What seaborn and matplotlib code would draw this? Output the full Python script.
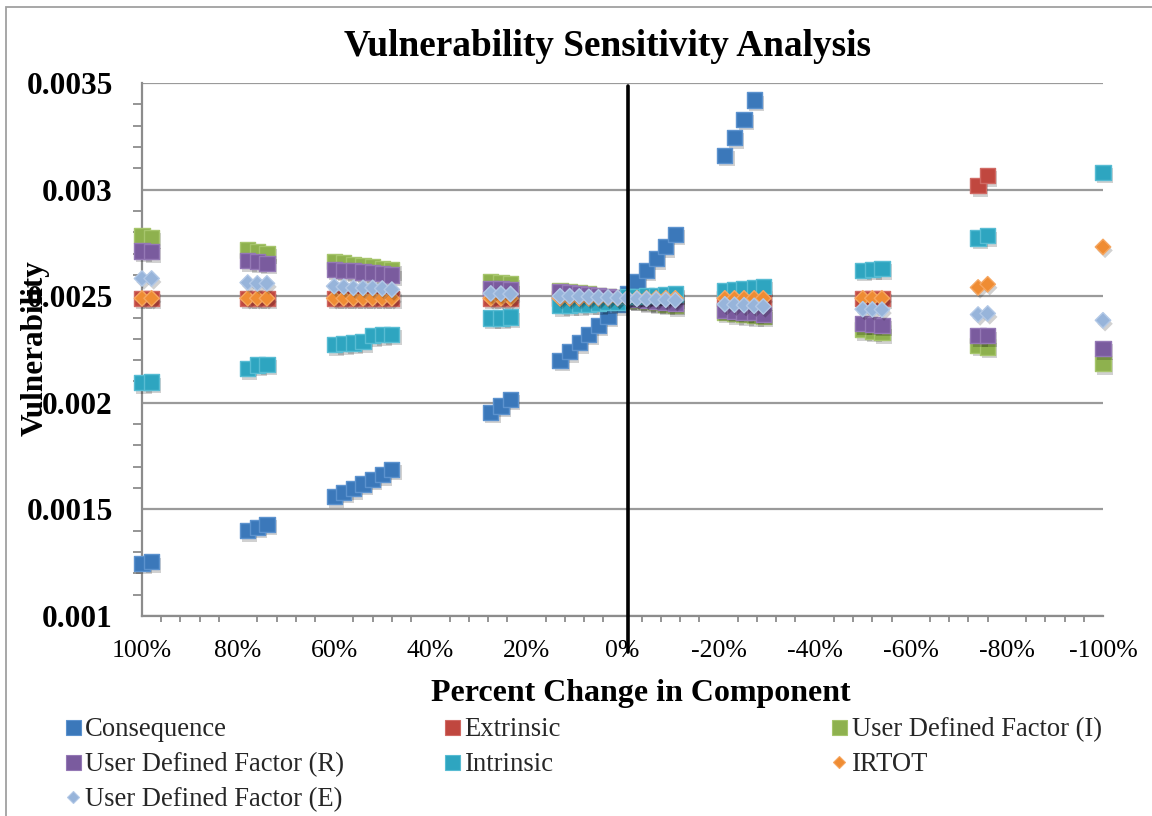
import matplotlib
matplotlib.use("Agg")
import matplotlib.pyplot as plt
import seaborn as sns
import pandas as pd
from matplotlib.lines import Line2D
from matplotlib.patches import Rectangle
from matplotlib import patheffects as pe
from matplotlib.ticker import MultipleLocator, FixedLocator, FixedFormatter

# ---------------- data ----------------
X_ALL = [100, 98, 78, 76, 74, 60, 58, 56, 54, 52, 50, 48, 27.4, 25.3, 23.3,
         13, 11, 9, 7, 5, 3, 1, -1, -3, -5, -7, -9, -11,
         -21.3, -23.3, -25.3, -27.4, -29.3, -50, -52, -54, -74, -76, -100]

X_CONSEQUENCE = [100, 98, 78, 76, 74, 60, 58, 56, 54, 52, 50, 48, 27.4, 25.3, 23.3,
                 13, 11, 9, 7, 5, 3, 1, -1, -3, -5, -7, -9, -11,
                 -21.3, -23.3, -25.3, -27.4]
Y_CONSEQUENCE = [0.001247, 0.001254, 0.0014, 0.001416, 0.001431,
                 0.001559, 0.00158, 0.001598, 0.001619, 0.001642, 0.001664, 0.001688,
                 0.001955, 0.001985, 0.002017,
                 0.0022, 0.002239, 0.002281, 0.002322, 0.002364, 0.002407, 0.00246,
                 0.00251, 0.002568, 0.002622, 0.002677, 0.002732, 0.002791,
                 0.003161, 0.003244, 0.00333, 0.00342]

X_EXTRINSIC = [100, 98, 78, 76, 74, 60, 58, 56, 54, 52, 50, 48, 27.4, 25.3, 23.3,
               13, 11, 9, 7, 5, 3, 1, -1, -3, -5, -7, -9, -11,
               -21.3, -23.3, -25.3, -27.4, -29.3, -50, -52, -54, -74, -76]
Y_EXTRINSIC = [0.00249, 0.00249, 0.00249, 0.00249, 0.00249,
               0.00249, 0.00249, 0.00249, 0.00249, 0.00249, 0.00249, 0.00249,
               0.00249, 0.00249, 0.00249,
               0.00249, 0.00249, 0.00249, 0.00249, 0.00249, 0.00249, 0.00249,
               0.00249, 0.00249, 0.00249, 0.00249, 0.00249, 0.00249,
               0.00249, 0.00249, 0.00249, 0.00249, 0.00249,
               0.00249, 0.00249, 0.00249, 0.003019, 0.003066]

Y_UDF_I = [0.002783, 0.002775, 0.002717, 0.002708, 0.002702,
           0.002661, 0.002656, 0.00265, 0.002644, 0.002637, 0.002631, 0.002623,
           0.002568, 0.002565, 0.002557,
           0.002527, 0.002522, 0.002516, 0.00251, 0.002505, 0.002499, 0.002494,
           0.002487, 0.002481, 0.002475, 0.002469, 0.002463, 0.002456,
           0.002425, 0.002418, 0.002414, 0.002409, 0.002406,
           0.002344, 0.002336, 0.002328, 0.00227, 0.002262, 0.002184]

Y_UDF_R = [0.002712, 0.002708, 0.002666, 0.002661, 0.002655,
           0.002627, 0.002622, 0.002619, 0.002614, 0.002611, 0.002606, 0.002599,
           0.002537, 0.002535, 0.00253,
           0.00252, 0.002516, 0.002511, 0.002507, 0.002502, 0.002498, 0.002493,
           0.002488, 0.002483, 0.002479, 0.002474, 0.00247, 0.002465,
           0.002434, 0.00243, 0.002426, 0.002422, 0.002416,
           0.002372, 0.002369, 0.002364, 0.002314, 0.002314, 0.002255]

Y_INTRINSIC = [0.002095, 0.002098, 0.002161, 0.002177, 0.002181,
               0.002273, 0.002278, 0.00228, 0.002287, 0.002315, 0.00232, 0.002322,
               0.002398, 0.002398, 0.002402,
               0.002456, 0.002458, 0.00246, 0.002463, 0.002466, 0.002469, 0.002473,
               0.002497, 0.0025, 0.002502, 0.002504, 0.002507, 0.00251,
               0.002528, 0.002531, 0.002536, 0.002542, 0.002547,
               0.002622, 0.002627, 0.00263, 0.002773, 0.002784, 0.003081]

Y_IRTOT = [0.00249, 0.00249, 0.00249, 0.00249, 0.00249,
           0.00249, 0.00249, 0.00249, 0.00249, 0.00249, 0.00249, 0.00249,
           0.00249, 0.00249, 0.00249,
           0.00249, 0.00249, 0.00249, 0.00249, 0.00249, 0.00249, 0.00249,
           0.00249, 0.00249, 0.00249, 0.00249, 0.00249, 0.00249,
           0.00249, 0.00249, 0.00249, 0.00249, 0.00249,
           0.00249, 0.00249, 0.00249, 0.002541, 0.002556, 0.002731]

Y_UDF_E = [0.002583, 0.002583, 0.002564, 0.00256, 0.00256,
           0.002547, 0.002544, 0.002539, 0.002539, 0.002539, 0.002536, 0.002531,
           0.002513, 0.002512, 0.00251,
           0.0025, 0.0025, 0.002499, 0.002497, 0.002495, 0.002494, 0.002492,
           0.00249, 0.002488, 0.002487, 0.002485, 0.002483, 0.002481,
           0.002462, 0.00246, 0.002458, 0.002455, 0.002452,
           0.002439, 0.002438, 0.002437, 0.002414, 0.002419, 0.002387]

SERIES_NAMES = ["Consequence", "Extrinsic", "User Defined Factor (I)",
                "User Defined Factor (R)", "Intrinsic", "IRTOT",
                "User Defined Factor (E)"]
SERIES_X = [X_CONSEQUENCE, X_EXTRINSIC, X_ALL, X_ALL, X_ALL, X_ALL, X_ALL]
SERIES_Y = [Y_CONSEQUENCE, Y_EXTRINSIC, Y_UDF_I, Y_UDF_R, Y_INTRINSIC, Y_IRTOT, Y_UDF_E]

X_TICKS = [100, 80, 60, 40, 20, 0, -20, -40, -60, -80, -100]
X_TICK_LABELS = ["100%", "80%", "60%", "40%", "20%", "0%", "-20%", "-40%",
                 "-60%", "-80%", "-100%"]
Y_TICKS = [0.001, 0.0015, 0.002, 0.0025, 0.003, 0.0035]
Y_TICK_LABELS = ["0.001", "0.0015", "0.002", "0.0025", "0.003", "0.0035"]

TITLE = "Vulnerability Sensitivity Analysis"
X_LABEL = "Percent Change in Component"
Y_LABEL = "Vulnerability"

# ---------------- style ----------------
FACE = {"Consequence": "#3B78BA", "Extrinsic": "#C0473F",
        "User Defined Factor (I)": "#8EB14E", "User Defined Factor (R)": "#7A5B9E",
        "Intrinsic": "#2EA5C0", "IRTOT": "#EF8C33",
        "User Defined Factor (E)": "#97B4DA"}
EDGE = {"Consequence": "#5C92CE", "Extrinsic": "#D06A64",
        "User Defined Factor (I)": "#A6C56C", "User Defined Factor (R)": "#9478B5",
        "Intrinsic": "#58BCD3", "IRTOT": "#F6A660",
        "User Defined Factor (E)": "#B2C8E6"}
MARK = {"Consequence": "s", "Extrinsic": "s", "User Defined Factor (I)": "s",
        "User Defined Factor (R)": "s", "Intrinsic": "s", "IRTOT": "D",
        "User Defined Factor (E)": "D"}

sns.set_theme(style="white")
plt.rcParams['font.family'] = ['Liberation Serif', 'DejaVu Serif']

W, H = 1152, 816
fig = plt.figure(figsize=(W / 100, H / 100), dpi=100)
fig.patch.set_facecolor("white")
ax = fig.add_axes([142 / W, 1 - 616 / H, (1103 - 142) / W, (616 - 83) / H])
ax.set_facecolor("white")

for i, (name, xs, ys) in enumerate(zip(SERIES_NAMES, SERIES_X, SERIES_Y)):
    df = pd.DataFrame({"x": xs, "y": ys})
    size = 120 if MARK[name] == "s" else 62
    sns.scatterplot(data=df, x="x", y="y", ax=ax, marker=MARK[name], s=size,
                    color=FACE[name], edgecolor=EDGE[name], linewidth=1.0,
                    zorder=3 + i, legend=False)
    coll = ax.collections[-1]
    coll.set_clip_on(False)
    coll.set_path_effects([pe.SimplePatchShadow(offset=(1.5, -2.5), shadow_rgbFace="black", alpha=0.18),
                           pe.Normal()])

ax.set_xlim(100, -100)
ax.set_ylim(0.001, 0.0035)
ax.set_xlabel("")
ax.set_ylabel("")

ax.xaxis.set_major_locator(FixedLocator(X_TICKS))
ax.xaxis.set_major_formatter(FixedFormatter(X_TICK_LABELS))
ax.xaxis.set_minor_locator(MultipleLocator(4))
ax.yaxis.set_major_locator(FixedLocator(Y_TICKS))
ax.yaxis.set_major_formatter(FixedFormatter(Y_TICK_LABELS))
ax.yaxis.set_minor_locator(MultipleLocator(0.0001))

for s in ["top", "right"]:
    ax.spines[s].set_visible(False)
for s in ["left", "bottom"]:
    ax.spines[s].set_color("#8c8c8c")
    ax.spines[s].set_linewidth(1.6)
    ax.spines[s].set_zorder(2.5)

ax.grid(False)
ax.yaxis.grid(True, which="major", color="#9a9a9a", linewidth=1.6, zorder=1)
ax.set_axisbelow(True)

ax.tick_params(axis="y", which="major", direction="out", length=9, width=1.4,
               color="#8c8c8c", pad=12, labelsize=22.5)
ax.tick_params(axis="y", which="minor", direction="out", length=6.5, width=1.3,
               color="#8c8c8c", left=True)
ax.tick_params(axis="x", which="major", direction="out", length=6, width=1.4,
               color="#8c8c8c", pad=11, labelsize=18.5)
ax.tick_params(axis="x", which="minor", direction="out", length=4.5, width=1.3,
               color="#8c8c8c", bottom=True)
for lab in ax.get_yticklabels():
    lab.set_fontweight("bold")
    lab.set_color("black")
for lab in ax.get_xticklabels():
    lab.set_color("black")

# vertical reference line (drawn shape in the original)
ZERO_LINE_X = -1.2
ax.axvline(ZERO_LINE_X, ymin=-0.068, ymax=0.995, color="black", linewidth=2.6,
           clip_on=False, zorder=20)

# titles
fig.text(608 / W, 1 - 46 / H, TITLE, ha="center", va="center",
         fontsize=26.8, fontweight="bold", color="black")
fig.text(641 / W, 1 - 694 / H, X_LABEL, ha="center", va="center",
         fontsize=23, fontweight="bold", color="black")
fig.text(35 / W, 1 - 348 / H, Y_LABEL, ha="center", va="center", rotation=90,
         fontsize=22.5, fontweight="bold", color="black")

# legend in three columns
def handle(name):
    ms = 10.8 if MARK[name] == "s" else 6.3
    return Line2D([], [], linestyle="none", marker=MARK[name], markersize=ms,
                  markerfacecolor=FACE[name], markeredgecolor=EDGE[name],
                  markeredgewidth=0.8)

LEG_COLS = [(["Consequence", "User Defined Factor (R)", "User Defined Factor (E)"], 64.5),
            (["Extrinsic", "Intrinsic"], 444),
            (["User Defined Factor (I)", "IRTOT"], 831)]
for names, xl in LEG_COLS:
    fig.legend([handle(n) for n in names], names, loc="upper left",
               bbox_to_anchor=(xl / W, 1 - 717 / H), frameon=False,
               fontsize=19.2, handlelength=0.6, handletextpad=0.17,
               borderpad=0, borderaxespad=0, labelspacing=0.38)

# outer chart border (left and top visible)
fig.patches.append(Rectangle((6 / W, -0.1), 1.2, (H - 7) / H + 0.1,
                             transform=fig.transFigure, fill=False,
                             edgecolor="#a0a0a0", linewidth=1.3))

fig.savefig("out.png", dpi=100, facecolor="white")
